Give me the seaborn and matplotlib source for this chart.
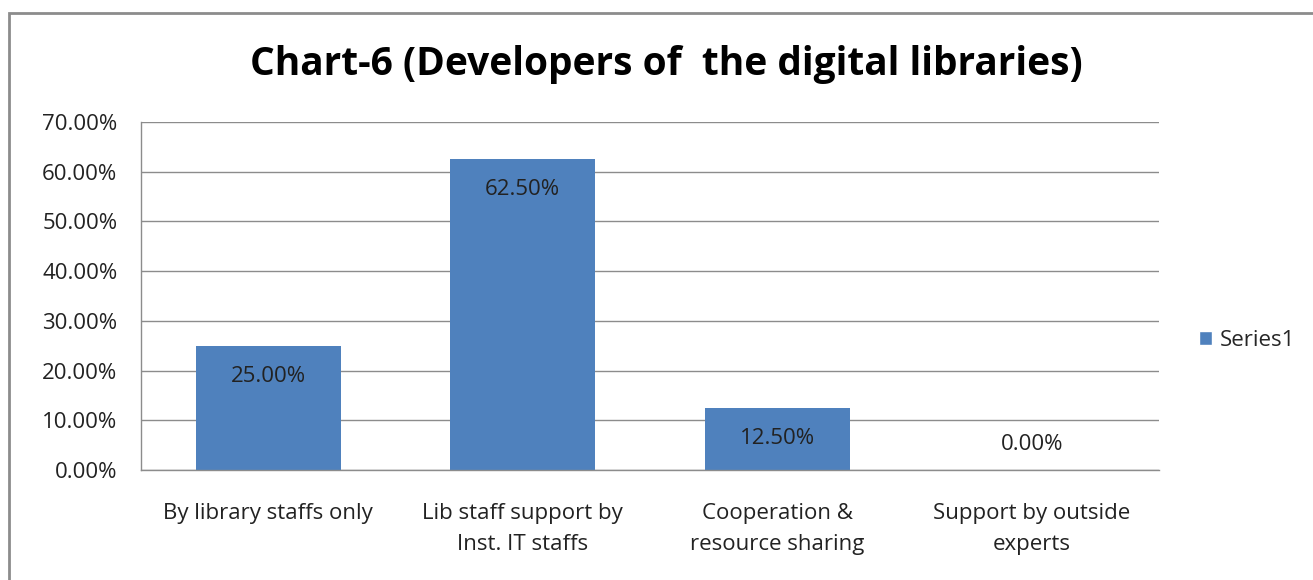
import matplotlib
matplotlib.use("Agg")
import matplotlib.pyplot as plt
import seaborn as sns
import pandas as pd
from matplotlib.patches import Rectangle, Patch

categories = ["By library staffs only", "Lib staff support by\nInst. IT staffs",
              "Cooperation &\nresource sharing", "Support by outside\nexperts"]
values = [25.0, 62.5, 12.5, 0.0]
yticks = [0, 10, 20, 30, 40, 50, 60, 70]
title = "Chart-6 (Developers of  the digital libraries)"
series_name = "Series1"

sns.set_theme(style="white")
plt.rcParams['font.family'] = ['Open Sans', 'DejaVu Sans']

W, H = 1313, 580
fig = plt.figure(figsize=(W/100, H/100), dpi=100)
ax = fig.add_axes([141/W, 1-470/H, (1159-141)/W, (470-122)/H])

df = pd.DataFrame({"cat": categories, "val": values})
color = "#4F81BD"
sns.barplot(data=df, x="cat", y="val", color=color, width=0.57, ax=ax,
            saturation=1, edgecolor="none")

fs = 16
ax.set_ylim(0, 70)
ax.set_yticks(yticks)
ax.set_yticklabels([f"{v:.2f}%" for v in yticks], fontsize=fs, color="#222222")
ax.set_xticklabels(categories, fontsize=fs, color="#222222", linespacing=1.6)
ax.set_xlabel("")
ax.set_ylabel("")
ax.grid(axis="y", color="#8c8c8c", linewidth=1)
ax.set_axisbelow(True)
for s in ["top", "right"]:
    ax.spines[s].set_visible(False)
for s in ["left", "bottom"]:
    ax.spines[s].set_color("#8c8c8c")
    ax.spines[s].set_linewidth(1)
ax.tick_params(axis="y", length=0, pad=17)
ax.tick_params(axis="x", length=0, pad=24)

for i, v in enumerate(values):
    ax.annotate(f"{v:.2f}%", xy=(i, v), xytext=(0, -22 if v > 5 else 18),
                textcoords="offset points", ha="center", va="center",
                fontsize=fs, color="#222222")

fig.text(666/W, 1-65/H, title, ha="center", va="center", fontsize=28,
         fontweight="bold", color="black")

leg = ax.legend(handles=[Patch(facecolor=color, label=series_name)],
                loc="center left", bbox_to_anchor=(1199/W, 1-340/H),
                bbox_transform=fig.transFigure, frameon=False, fontsize=fs,
                handlelength=0.6, handleheight=0.6, handletextpad=0.35,
                borderaxespad=0, borderpad=0)

fig.patches.append(Rectangle((9/W, -0.1), 1.2, 1 - 13/H + 0.1,
                             transform=fig.transFigure, fill=False,
                             edgecolor="#8c8c8c", linewidth=2))

fig.savefig("out.png", dpi=100)
